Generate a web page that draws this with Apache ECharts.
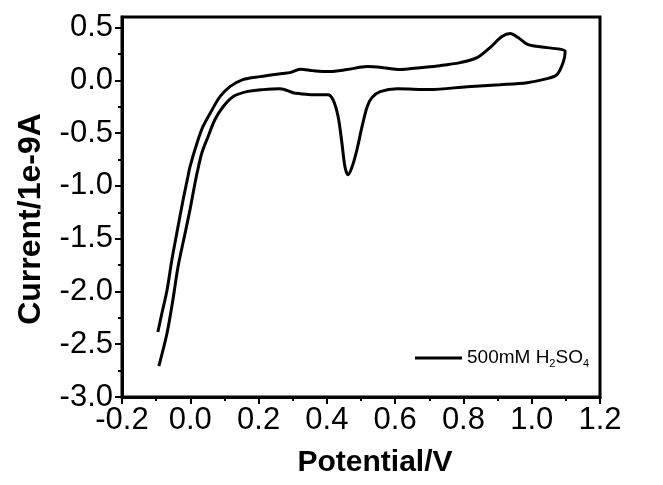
<!DOCTYPE html>
<html>
<head>
<meta charset="utf-8">
<script src="https://cdn.jsdelivr.net/npm/echarts@6/dist/echarts.min.js"></script>
<style>
  html, body { margin: 0; padding: 0; background: #fff; }
  #chart { width: 663px; height: 485px; }
</style>
</head>
<body>
<div id="chart"></div>
<script>
// anodic scan (-0.1 V -> 1.1 V) followed by the cathodic scan back
const potential = [
  -0.095, -0.083, -0.068, -0.054, -0.036, -0.021, -0.007, -0.001, 0.020, 0.037,
  0.064, 0.087, 0.116, 0.154, 0.204, 0.269, 0.292, 0.322, 0.359, 0.409,
  0.459, 0.518, 0.565, 0.614, 0.673, 0.731, 0.790, 0.840, 0.878, 0.913,
  0.937, 0.960, 0.989, 1.045, 1.098,
  1.092, 1.074, 1.045, 0.986, 0.907, 0.811, 0.702, 0.606, 0.556, 0.532,
  0.518, 0.503, 0.488, 0.474, 0.462, 0.453, 0.444, 0.433, 0.418, 0.403,
  0.359, 0.321, 0.301, 0.263, 0.213, 0.166, 0.125, 0.096, 0.072, 0.052,
  0.034, 0.020, 0.014, -0.001, -0.015, -0.036, -0.051, -0.068, -0.092
];
const current = [
  -2.384, -2.204, -1.986, -1.701, -1.388, -1.132, -0.914, -0.819, -0.591, -0.439,
  -0.278, -0.155, -0.060, 0.007, 0.035, 0.064, 0.073, 0.105, 0.092, 0.083,
  0.102, 0.130, 0.120, 0.102, 0.120, 0.139, 0.168, 0.215, 0.310, 0.415,
  0.443, 0.405, 0.339, 0.310, 0.272,
  0.168, 0.054, 0.016, -0.022, -0.041, -0.060, -0.088, -0.079, -0.107, -0.164,
  -0.250, -0.439, -0.658, -0.819, -0.895, -0.819, -0.591, -0.344, -0.183, -0.136,
  -0.136, -0.126, -0.117, -0.079, -0.088, -0.107, -0.155, -0.250, -0.373, -0.534,
  -0.686, -0.876, -0.971, -1.227, -1.445, -1.768, -2.081, -2.394, -2.707
];
const yMajorTicks = [-3.0, -2.5, -2.0, -1.5, -1.0, -0.5, 0.0, 0.5];
const yMinorTicks = [-2.75, -2.25, -1.75, -1.25, -0.75, -0.25, 0.25];
const seriesName = '500mM H2SO4';

const font = 'Liberation Sans, Arial, sans-serif';
const fmt = v => Number(v).toFixed(1);

const chart = echarts.init(document.getElementById('chart'));

chart.setOption({
  animation: false,
  backgroundColor: '#fff',
  grid: {
    left: 122, top: 17, right: 63, bottom: 88,
    show: true, borderColor: '#000', borderWidth: 3
  },
  legend: {
    left: 415, top: 347, padding: 0,
    icon: 'rect', itemWidth: 47, itemHeight: 3,
    data: [seriesName],
    formatter: () => '500mM H{s|2}SO{s|4}',
    textStyle: {
      fontFamily: font, fontSize: 19, color: '#000', lineHeight: 22,
      rich: { s: { fontFamily: font, fontSize: 11, color: '#000', verticalAlign: 'bottom', padding: [9, 0, 0, 0] } }
    }
  },
  xAxis: {
    type: 'value', min: -0.2, max: 1.2, interval: 0.2,
    name: 'Potential/V', nameLocation: 'middle', nameGap: 51,
    nameTextStyle: { fontFamily: font, fontSize: 30, fontWeight: 'bold', color: '#000', padding: [0, 0, 0, 28] },
    axisLine: { show: true, onZero: false, lineStyle: { color: '#000', width: 3 } },
    axisTick: { show: true, length: 7, lineStyle: { color: '#000', width: 2 } },
    minorTick: { show: true, splitNumber: 2, length: 4, lineStyle: { color: '#000', width: 2 } },
    axisLabel: { fontFamily: font, fontSize: 31, color: '#000', margin: 8, formatter: fmt },
    splitLine: { show: false }
  },
  yAxis: [{
    type: 'value', min: -3, max: 0.6, interval: 0.5, position: 'left',
    name: 'Current/1e-9A', nameLocation: 'middle', nameGap: 75,
    nameTextStyle: { fontFamily: font, fontSize: 32, fontWeight: 'bold', color: '#000', padding: [0, 24, 0, 0] },
    axisLine: { show: true, onZero: false, lineStyle: { color: '#000', width: 3 } },
    axisTick: { show: true, length: 7, customValues: yMajorTicks, lineStyle: { color: '#000', width: 2 } },
    axisLabel: { fontFamily: font, fontSize: 31, color: '#000', margin: 9, customValues: yMajorTicks, formatter: fmt },
    splitLine: { show: false }
  }, {
    type: 'value', min: -3, max: 0.6, position: 'left',
    axisLine: { show: false, onZero: false },
    axisTick: { show: true, length: 4, customValues: yMinorTicks, lineStyle: { color: '#000', width: 2 } },
    axisLabel: { show: false },
    splitLine: { show: false }
  }],
  series: [{
    name: seriesName,
    type: 'line',
    data: potential.map((e, i) => [e, current[i]]),
    showSymbol: false,
    symbol: 'none',
    smooth: 0.3,
    color: '#000',
    lineStyle: { color: '#000', width: 3 }
  }]
});
</script>
</body>
</html>
